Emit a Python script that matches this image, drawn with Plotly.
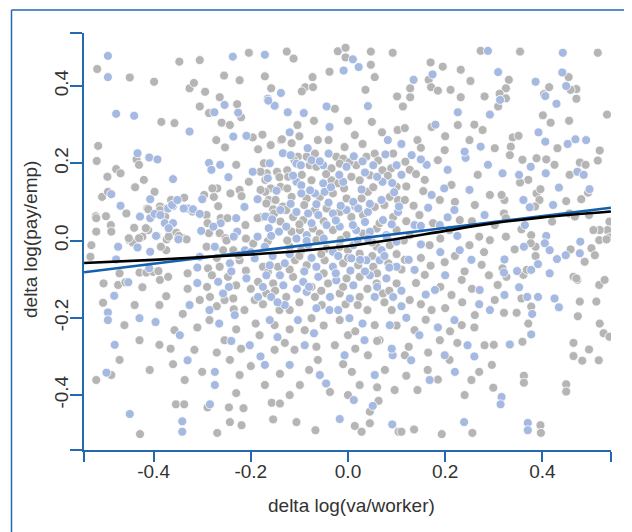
import plotly.graph_objects as go

# ---------------- data ----------------
gray_pts = [
    (-0.516,0.444),(-0.449,0.422),(-0.399,0.411),(-0.347,0.463),(-0.305,0.467),(-0.204,0.486),(-0.126,0.489),(-0.112,0.471),
    (-0.021,0.490),(-0.005,0.499),(-0.005,0.474),(0.047,0.489),(0.092,0.486),(0.047,0.455),(-0.038,0.437),(0.055,0.423),
    (-0.073,0.423),(-0.088,0.397),(-0.072,0.397),(-0.095,0.386),(-0.171,0.425),(-0.158,0.394),(-0.255,0.427),(-0.223,0.415),
    (-0.326,0.394),(-0.317,0.408),(-0.294,0.385),(-0.264,0.371),(-0.228,0.353),(-0.305,0.347),(0.036,0.390),(-0.027,0.341),
    (0.101,0.373),(0.128,0.371),(0.128,0.394),(0.170,0.461),(0.195,0.450),(0.232,0.442),(0.166,0.416),(0.171,0.397),
    (0.185,0.388),(0.211,0.390),(0.232,0.371),(0.252,0.413),(0.113,0.347),(0.273,0.491),(0.354,0.489),(0.514,0.486),
    (0.331,0.416),(0.325,0.394),(0.312,0.380),(0.325,0.368),(0.281,0.373),(0.309,0.347),(0.454,0.423),(0.470,0.392),
    (0.458,0.390),(0.470,0.367),(0.414,0.397),(0.403,0.379),(0.533,0.326),
    (0.401,0.324),(0.417,0.305),(0.455,0.310),(0.339,0.267),(0.351,0.271),(0.335,0.243),(0.333,0.221),(0.431,0.239),
    (0.518,0.233),(0.514,0.207),(0.359,0.209),(0.388,0.213),(0.408,0.210),(0.425,0.196),(0.477,0.202),(0.489,0.196),
    (0.371,0.157),(0.354,0.150),(0.456,0.170),(0.480,0.107),(0.494,0.124),(0.388,0.122),(0.396,0.133),(0.394,0.105),
    (0.385,0.088),(0.449,0.102),(0.322,0.105),(0.316,0.118),(0.456,0.070),(0.467,0.062),(0.538,0.049),(0.534,0.027),
    (0.538,0.008),(0.518,0.027),(0.505,0.027),(0.496,0.066),(0.420,0.049),(0.321,0.070),(0.325,0.058),(0.357,0.029),
    (0.377,0.014),(0.386,-0.016),(0.325,0.010),(0.343,-0.023),(0.458,-0.023),(0.487,-0.055),(0.501,-0.020),(0.517,0.001),
    (0.532,0.003),(0.508,-0.038),(0.464,-0.094),(0.361,-0.089),(0.368,-0.076),(0.386,-0.040),(0.376,-0.007),(0.472,-0.102),
    (0.517,-0.115),(0.528,-0.102),(0.357,-0.150),(0.377,-0.171),(0.321,-0.187),(0.347,-0.187),(0.371,-0.215),(0.359,-0.262),
    (0.477,-0.158),(0.511,-0.158),(0.473,-0.196),(0.518,-0.215),(0.526,-0.240),(0.538,-0.249),(0.464,-0.265),(0.464,-0.299),
    (0.482,-0.311),(0.496,-0.282),(0.516,-0.310),(0.362,-0.350),(0.449,-0.372),(0.396,-0.478),(0.470,-0.098),(0.318,-0.072),
    (0.326,-0.094),
    (0.299,-0.381),(0.362,-0.368),(0.449,-0.391),(-0.518,-0.361),(-0.354,-0.424),(-0.337,-0.424),(-0.289,-0.432),(-0.245,-0.432),
    (-0.215,-0.434),(-0.157,-0.420),(-0.140,-0.422),(0.063,-0.415),(-0.428,-0.501),(-0.269,-0.498),(-0.243,-0.470),(-0.219,-0.478),
    (-0.154,-0.463),(-0.106,-0.470),(-0.067,-0.491),(0.014,-0.480),(0.028,-0.495),(0.045,-0.443),(0.045,-0.473),(0.104,-0.495),
    (0.110,-0.495),(0.136,-0.489),(0.193,-0.501),(0.256,-0.498),(0.397,-0.498),
    (-0.519,0.063),(-0.498,0.063),(-0.456,0.070),(-0.518,0.023),(-0.488,0.040),(-0.487,0.023),(-0.528,-0.012),(-0.530,-0.042),
    (-0.450,0.001),(-0.440,0.033),(-0.443,-0.005),(-0.423,0.010),(-0.411,0.027),(-0.413,0.083),(-0.470,-0.085),(-0.503,-0.111),
    (-0.473,-0.115),(-0.458,-0.108),(-0.429,-0.083),(-0.415,-0.083),(-0.401,-0.081),(-0.423,-0.121),(-0.387,-0.102),(-0.370,-0.094),
    (-0.390,-0.079),(-0.374,-0.144),(-0.374,-0.025),(-0.385,-0.016),(-0.373,0.003),(-0.366,0.023),(-0.380,0.070),(-0.387,0.088),
    (-0.373,0.083),(-0.353,0.020),(-0.339,0.006),(-0.332,0.003),
    (-0.384,0.307),(-0.357,0.304),(-0.286,0.330),(-0.220,0.319),(-0.260,0.305),(-0.243,0.299),(-0.271,0.260),(-0.253,0.241),
    (-0.196,0.267),(-0.176,0.274),(-0.185,0.236),(-0.159,0.247),(-0.138,0.260),(-0.514,0.245),(-0.517,0.206),(-0.435,0.210),
    (-0.430,0.196),(-0.477,0.185),(-0.468,0.174),(-0.495,0.165),(-0.438,0.138),(-0.420,0.157),(-0.398,0.126),(-0.506,0.113),
    (-0.494,0.126),(-0.411,0.081),(-0.387,0.079),(-0.518,0.058),(-0.416,0.032),(-0.451,0.006),(-0.430,0.006),(-0.376,0.062),
    (-0.348,0.012),(-0.369,0.010),(-0.364,0.105),(-0.337,0.111),(-0.296,0.118),(-0.320,0.075),(-0.291,0.066),(-0.276,0.113),
    (-0.269,0.135),(-0.279,0.135),(-0.267,0.089),(-0.262,0.058),(-0.248,0.058),(-0.289,0.045),(-0.286,0.019),(-0.264,0.019),
    (-0.252,0.006),(-0.211,0.040),(-0.242,0.122),(-0.223,0.131),(-0.219,0.115),(-0.204,0.152),(-0.230,0.196),(-0.173,0.200),
    (-0.167,0.174),(-0.180,0.178),(-0.170,0.157),(-0.146,0.178),(-0.141,0.164),(-0.139,0.139),(-0.159,0.135),(-0.170,0.126),
    (-0.180,0.131),(-0.163,0.105),(-0.168,0.096),(-0.149,0.105),(-0.134,0.088),(-0.154,0.081),(-0.180,0.060),(-0.152,0.070),
    (-0.139,0.049),(-0.166,0.062),(-0.186,0.058),(-0.136,0.262),
    (-0.504,-0.161),(-0.487,-0.348),
    # centre block
    (-0.103,0.217),(-0.085,0.217),(-0.068,0.225),(-0.024,0.217),(-0.010,0.212),(0.038,0.217),(0.055,0.225),(0.093,0.225),
    (-0.079,0.195),(-0.065,0.191),(-0.034,0.187),(-0.017,0.199),(0.017,0.195),(0.071,0.182),(0.089,0.187),(-0.125,0.182),
    (-0.123,0.165),(-0.075,0.156),(-0.034,0.156),(-0.020,0.148),(0.007,0.165),(0.024,0.156),(0.045,0.169),(0.100,0.139),
    (-0.116,0.113),(-0.085,0.109),(-0.058,0.113),(-0.031,0.122),(-0.003,0.109),(0.028,0.109),(0.041,0.126),(0.086,0.113),
    (0.103,0.105),(-0.127,0.079),(-0.113,0.061),(-0.092,0.053),(-0.068,0.079),(-0.044,0.083),(-0.017,0.074),(0.007,0.061),
    (0.031,0.066),(0.055,0.087),(0.093,0.061),(-0.116,0.023),(-0.099,0.027),(-0.072,0.031),(-0.058,0.018),(-0.031,0.027),
    (-0.003,0.014),(0.031,0.018),(0.059,0.031),(0.100,0.027),
    (-0.291,-0.016),(-0.257,-0.025),(-0.236,-0.025),(-0.195,-0.008),(-0.120,-0.016),(-0.096,-0.025),(-0.065,0.001),(-0.044,-0.021),
    (-0.017,-0.016),(0.000,-0.025),(0.024,-0.034),(0.059,-0.016),(0.086,-0.012),
    (-0.288,-0.072),(-0.264,-0.068),(-0.223,-0.051),(-0.175,-0.068),(-0.144,-0.068),(-0.109,-0.051),(-0.085,-0.064),(-0.048,-0.051),
    (-0.010,-0.059),(0.021,-0.064),(0.052,-0.068),(0.083,-0.059),
    (-0.247,-0.094),(-0.230,-0.116),(-0.185,-0.107),(-0.154,-0.111),(-0.113,-0.094),(-0.075,-0.120),(-0.041,-0.111),(-0.003,-0.098),
    (0.024,-0.094),(0.059,-0.111),(0.100,-0.111),
    (-0.284,-0.146),(-0.236,-0.150),(-0.168,-0.137),(-0.127,-0.146),(-0.068,-0.146),(-0.017,-0.137),(0.024,-0.146),(0.072,-0.137),
    # lower-left block
    (-0.460,-0.219),(-0.429,-0.258),(-0.388,-0.167),(-0.357,-0.232),(-0.316,-0.283),(-0.285,-0.206),(-0.254,-0.258),(-0.213,-0.180),
    (-0.182,-0.245),(-0.151,-0.283),(-0.408,-0.335),(-0.336,-0.361),(-0.223,-0.348),(-0.171,-0.374),(-0.439,-0.167),(-0.470,-0.309),
    (-0.243,-0.309),(-0.305,-0.154),(-0.141,-0.180),(-0.192,-0.154),(-0.151,-0.219),(-0.254,-0.154),(-0.388,-0.270),
    # upper-centre strip
    (-0.104,0.299),(-0.062,0.260),(0.014,0.273),(0.049,0.307),(-0.116,0.252),(-0.007,0.242),(0.102,0.286),
    # right-centre block
    (0.117,0.291),(0.143,0.260),(0.172,0.294),(0.199,0.234),(0.226,0.299),(0.250,0.260),(0.277,0.286),(0.302,0.239),
    (0.127,0.183),(0.158,0.157),(0.185,0.208),(0.213,0.144),(0.267,0.170),(0.292,0.118),(0.117,0.105),(0.147,0.066),
    (0.189,0.105),(0.230,0.053),(0.261,0.092),(0.302,0.040),(0.127,0.014),(0.168,-0.012),(0.209,0.027),(0.250,-0.012),
    (0.292,0.001),(0.117,-0.050),(0.158,-0.089),(0.199,-0.056),(0.234,-0.102),(0.275,-0.063),(0.308,-0.115),(0.127,-0.154),
    (0.172,-0.180),(0.213,-0.141),(0.261,-0.193),(0.302,-0.154),(0.137,-0.232),(0.189,-0.258),(0.234,-0.219),(0.281,-0.271),
    (0.117,-0.297),(0.164,-0.335),(0.209,-0.309),(0.254,-0.361),(0.296,-0.322),(0.143,-0.387),(0.240,-0.400),
    # lower-centre block
    (-0.120,-0.180),(-0.089,-0.232),(-0.054,-0.167),(-0.017,-0.206),(0.020,-0.167),(0.055,-0.219),(0.090,-0.180),(-0.110,-0.283),
    (-0.062,-0.309),(-0.027,-0.271),(0.008,-0.340),(0.041,-0.297),(0.076,-0.335),(-0.099,-0.374),(-0.037,-0.392),(0.024,-0.374),
    (0.096,-0.387),(-0.075,-0.201),(0.000,-0.245),(0.065,-0.258),
    # dense centre, second layer (overlapping dots)
    (-0.110,0.207),(0.003,0.203),(0.062,0.207),(0.118,0.204),
    (-0.095,0.170),(-0.045,0.172),(0.082,0.168),(0.140,0.172),
    (-0.125,0.135),(-0.008,0.135),(0.052,0.138),(0.120,0.140),(0.155,0.128),
    (-0.090,0.092),(0.015,0.088),(0.075,0.092),(0.135,0.090),(0.220,0.100),
    (-0.100,0.042),(-0.050,0.050),(0.065,0.045),(0.120,0.050),(0.175,0.045),(0.255,0.050),
    (-0.250,0.000),(-0.210,0.005),(-0.165,-0.002),(-0.125,0.000),(-0.015,0.002),(0.050,-0.005),(0.115,0.000),
    (0.190,0.005),(0.270,0.010),
    (-0.270,-0.045),(-0.225,-0.038),(-0.100,-0.040),(-0.055,-0.035),(0.000,-0.045),(0.050,-0.040),(0.100,-0.035),
    (0.150,-0.045),(0.220,-0.040),(0.280,-0.030),
    (-0.330,-0.085),(-0.280,-0.090),(-0.210,-0.078),(-0.165,-0.082),(-0.120,-0.075),(-0.050,-0.085),(0.060,-0.085),
    (0.110,-0.075),(0.170,-0.065),(0.240,-0.080),(0.290,-0.090),
    (-0.330,-0.125),(-0.290,-0.120),(-0.200,-0.125),(-0.150,-0.130),(-0.055,-0.130),(-0.010,-0.120),(0.040,-0.125),
    (0.085,-0.130),(0.140,-0.110),(0.190,-0.120),(0.255,-0.125),
    (-0.340,-0.190),(-0.270,-0.170),(-0.235,-0.178),(-0.175,-0.165),(-0.100,-0.160),(-0.005,-0.165),(0.040,-0.180),
    (0.075,-0.160),(0.150,-0.165),(0.200,-0.175),(0.235,-0.160),
    (-0.310,-0.225),(-0.230,-0.230),(-0.190,-0.215),(-0.120,-0.230),(-0.050,-0.220),(0.015,-0.235),(0.100,-0.220),(0.160,-0.205),
    (0.210,-0.235),(0.260,-0.225),
    (-0.365,-0.280),(-0.270,-0.290),(-0.220,-0.280),(-0.130,-0.265),(-0.065,-0.275),(0.015,-0.280),(0.060,-0.260),(0.125,-0.275),
    (0.165,-0.290),(0.225,-0.265),(0.300,-0.270),
    (-0.360,-0.320),(-0.300,-0.340),(-0.200,-0.325),(-0.140,-0.345),(-0.080,-0.335),(-0.010,-0.320),(0.060,-0.380),(0.120,-0.350),
    (0.185,-0.360),(0.270,-0.340),(-0.230,-0.395),(-0.120,-0.400),(0.000,-0.400),
    (-0.100,0.270),(-0.040,0.260),(0.030,0.250),(0.070,0.280),(0.150,0.240),(0.200,0.270),(0.260,0.300),(-0.070,0.310),(0.000,0.310),
]
blue_pts = [
    (-0.494,0.478),(-0.494,0.423),(-0.237,0.476),(-0.171,0.481),(0.010,0.469),(0.022,0.449),(-0.009,0.440),(-0.138,0.382),
    (-0.165,0.367),(-0.150,0.349),(-0.254,0.351),(-0.226,0.331),(-0.275,0.332),(-0.477,0.328),(-0.440,0.323),(0.041,0.348),
    (-0.044,0.347),(-0.124,0.332),(-0.091,0.330),(0.135,0.416),(0.174,0.430),(0.226,0.332),(0.288,0.491),(0.442,0.486),
    (0.309,0.436),(0.313,0.364),(0.292,0.326),(0.386,0.411),(0.441,0.435),(0.449,0.400),(0.429,0.354),(0.406,0.374),
    (0.392,0.280),(0.406,0.256),(0.452,0.250),(0.468,0.262),(0.490,0.260),(0.273,0.243),(0.376,0.191),(0.318,0.174),
    (0.352,0.170),(0.407,0.174),(0.472,0.178),(0.485,0.170),(0.434,0.137),(0.497,0.133),(0.361,0.105),(0.374,0.086),
    (0.422,0.092),(0.364,0.040),(0.362,-0.016),(0.408,0.012),(0.405,-0.007),(0.478,-0.003),(0.477,-0.033),(0.415,-0.025),
    (0.430,-0.048),(0.448,-0.038),(0.322,-0.049),(0.321,-0.083),(0.348,-0.079),(0.377,-0.076),(0.391,-0.061),(0.415,-0.085),
    (0.352,-0.121),(0.322,-0.141),(0.369,-0.146),(0.391,-0.146),(0.425,-0.150),(0.434,-0.173),(0.379,-0.190),(0.333,-0.269),
    (0.377,-0.243),(0.316,-0.405),(0.370,-0.472),
    (-0.284,-0.424),(0.012,-0.413),(0.051,-0.428),(0.314,-0.424),(-0.449,-0.449),(-0.341,-0.468),(-0.341,-0.495),(-0.017,-0.462),
    (0.091,-0.476),(0.239,-0.470),(0.370,-0.491),
    (-0.468,0.090),(-0.428,0.062),(-0.473,-0.016),(-0.433,-0.018),(-0.407,-0.029),(-0.477,-0.049),(-0.481,-0.143),(-0.452,-0.108),
    (-0.409,-0.072),(-0.393,0.012),(-0.377,0.045),(-0.360,0.045),(-0.349,0.003),(-0.370,0.083),(-0.360,0.089),(-0.329,0.083),
    (-0.326,0.282),(-0.236,0.269),(-0.209,0.271),(-0.151,0.349),(-0.164,0.362),(-0.433,0.226),(-0.409,0.215),(-0.392,0.210),
    (-0.360,0.159),(-0.487,0.120),(-0.407,0.107),(-0.407,0.058),(-0.398,0.069),(-0.386,0.066),(-0.395,0.012),(-0.369,0.032),
    (-0.362,0.092),(-0.351,0.105),(-0.338,0.083),(-0.319,0.081),(-0.305,0.069),(-0.300,0.107),(-0.262,0.045),(-0.277,0.036),
    (-0.302,0.025),(-0.228,0.023),(-0.230,0.058),(-0.213,0.087),(-0.286,0.201),(-0.263,0.196),(-0.281,0.183),(-0.246,0.164),
    (-0.196,0.178),(-0.161,0.200),(-0.165,0.161),(-0.147,0.129),(-0.186,0.107),(-0.170,0.062),(-0.156,0.055),(-0.139,0.079),
    (-0.163,0.032),(-0.142,0.023),(-0.158,0.012),(-0.186,0.010),(-0.134,0.226),
    (-0.494,-0.186),(-0.494,-0.206),(-0.497,-0.342),
    # centre block
    (-0.118,0.221),(-0.040,0.225),(0.012,0.218),(0.077,0.223),(-0.106,0.199),(-0.097,0.195),(-0.051,0.195),(-0.003,0.191),
    (0.052,0.195),(0.100,0.195),(-0.106,0.152),(-0.096,0.143),(-0.051,0.148),(-0.010,0.152),(0.071,0.152),(0.091,0.149),
    (-0.096,0.122),(-0.068,0.122),(-0.048,0.126),(0.011,0.100),(0.069,0.105),(-0.106,0.074),(-0.082,0.070),(-0.061,0.066),
    (-0.031,0.070),(-0.003,0.079),(0.021,0.083),(0.041,0.074),(0.072,0.053),(0.103,0.074),(-0.127,0.036),(-0.085,0.014),
    (-0.044,0.040),(-0.017,0.036),(0.017,0.027),(0.045,0.023),(0.079,0.014),
    (-0.305,-0.042),(-0.274,-0.016),(-0.212,-0.025),(-0.171,-0.016),(-0.106,0.005),(-0.082,-0.012),(-0.031,-0.029),(0.011,-0.012),
    (0.041,0.005),(0.069,-0.025),(0.100,-0.003),
    (-0.243,-0.059),(-0.192,-0.046),(-0.161,-0.064),(-0.130,-0.059),(-0.065,-0.068),(-0.031,-0.068),(0.007,-0.046),(0.038,-0.051),
    (0.065,-0.051),(0.100,-0.068),
    (-0.267,-0.107),(-0.209,-0.098),(-0.168,-0.090),(-0.133,-0.116),(-0.092,-0.107),(-0.061,-0.094),(-0.024,-0.103),(0.011,-0.116),
    (0.045,-0.090),(0.079,-0.098),
    (-0.257,-0.137),(-0.185,-0.146),(-0.158,-0.146),(-0.085,-0.133),(-0.037,-0.146),(0.004,-0.150),(0.055,-0.146),(0.093,-0.146),
    # lower-left block
    (-0.480,-0.270),(-0.396,-0.211),(-0.346,-0.245),(-0.274,-0.340),(-0.274,-0.374),(-0.233,-0.193),(-0.202,-0.271),(-0.161,-0.206),
    (-0.429,-0.201),(-0.326,-0.167),(-0.171,-0.322),(-0.130,-0.167),
    # upper-centre strip
    (-0.038,0.294),(0.082,0.260),(-0.083,0.239),
    # right-centre block
    (0.131,0.221),(0.162,0.196),(0.205,0.183),(0.242,0.214),(0.288,0.196),(0.172,0.118),(0.219,0.079),(0.250,0.131),
    (0.281,0.066),(0.137,0.040),(0.189,0.040),(0.230,-0.025),(0.137,-0.076),(0.179,-0.128),(0.254,-0.050),(0.292,-0.180),
    (0.147,-0.245),(0.199,-0.297),(0.246,-0.271),(0.168,-0.361),(0.271,-0.128),(0.219,-0.206),
    # lower-centre block
    (-0.103,-0.206),(-0.038,-0.180),(0.003,-0.201),(0.034,-0.258),(0.086,-0.219),(-0.089,-0.271),(-0.007,-0.297),(0.055,-0.348),
    (-0.058,-0.348),(-0.120,-0.322),(0.092,-0.297),
    # dense centre, second layer
    (-0.075,0.208),(0.030,0.205),(0.150,0.210),(-0.058,0.205),
    (-0.113,0.168),(-0.018,0.170),(0.060,0.165),(0.110,0.170),(0.035,0.176),
    (-0.035,0.138),(0.028,0.132),(0.095,0.125),(0.198,0.135),(-0.078,0.130),
    (-0.118,0.095),(-0.065,0.094),(-0.015,0.090),(0.045,0.095),(0.105,0.088),(0.165,0.085),(-0.040,0.098),
    (-0.075,0.045),(-0.025,0.052),(0.035,0.048),(0.090,0.042),(0.150,0.038),(0.205,0.060),(0.010,0.040),
    (-0.235,0.010),(-0.050,0.005),(0.020,0.000),(0.080,0.008),(0.150,-0.010),(0.225,0.012),(-0.085,-0.001),
    (-0.200,-0.030),(-0.120,-0.035),(-0.075,-0.045),(-0.020,-0.040),(0.025,-0.050),(0.075,-0.040),(0.125,-0.050),(0.190,-0.030),
    (-0.155,-0.040),
    (-0.310,-0.070),(-0.240,-0.080),(-0.140,-0.090),(-0.090,-0.080),(-0.025,-0.085),(0.035,-0.080),(0.085,-0.070),(0.200,-0.090),
    (0.005,-0.078),
    (-0.310,-0.110),(-0.245,-0.120),(-0.175,-0.120),(-0.080,-0.120),(0.060,-0.120),(0.110,-0.130),(0.160,-0.140),(-0.105,-0.125),
    (-0.285,-0.180),(-0.145,-0.160),(-0.020,-0.180),(0.110,-0.170),(0.270,-0.165),(-0.065,-0.175),
    (-0.265,-0.215),(-0.145,-0.250),(-0.070,-0.240),(0.030,-0.215),(0.120,-0.200),(0.185,-0.225),
    (-0.240,-0.260),(-0.180,-0.300),(0.090,-0.280),(0.260,-0.300),
    (-0.330,-0.310),(-0.045,-0.370),(0.130,-0.310),(0.220,-0.340),
    (-0.120,0.280),(0.110,0.250),(0.180,0.300),(0.240,0.230),
]
# fitted lines
lin_x = [-0.543, 0.541]
lin_y = [-0.082, 0.085]
smooth_x = [-0.543, -0.40, -0.30, -0.20, -0.10, 0.00, 0.10, 0.20, 0.30, 0.40, 0.541]
smooth_y = [-0.058, -0.050, -0.043, -0.036, -0.027, -0.014, 0.004, 0.025, 0.045, 0.060, 0.075]

x_ticks = [-0.543, -0.4, -0.2, 0.0, 0.2, 0.4, 0.541]
x_labels = ["", "-0.4", "-0.2", "0.0", "0.2", "0.4", ""]
y_ticks = [-0.542, -0.4, -0.2, 0.0, 0.2, 0.4, 0.537]
y_labels = ["", "-0.4", "-0.2", "0.0", "0.2", "0.4", ""]

AX = "#2468b0"
GRAY = "#b5b5b5"
LBLUE = "#a5b9e1"
TXT = "#333333"
FONT = "Liberation Sans, Arial, sans-serif"
FS = 19

fig = go.Figure()
fig.add_trace(go.Scatter(x=[p[0] for p in gray_pts], y=[p[1] for p in gray_pts], mode="markers",
                         marker=dict(size=9, color=GRAY, line=dict(color="white", width=0.8)),
                         hoverinfo="skip", showlegend=False))
fig.add_trace(go.Scatter(x=[p[0] for p in blue_pts], y=[p[1] for p in blue_pts], mode="markers",
                         marker=dict(size=9, color=LBLUE, line=dict(color="white", width=0.8)),
                         hoverinfo="skip", showlegend=False))
fig.add_trace(go.Scatter(x=lin_x, y=lin_y, mode="lines", line=dict(color="#1560ad", width=2.6),
                         hoverinfo="skip", showlegend=False))
fig.add_trace(go.Scatter(x=smooth_x, y=smooth_y, mode="lines", line=dict(color="black", width=2.6, shape="spline"),
                         hoverinfo="skip", showlegend=False))

axis_common = dict(showgrid=False, zeroline=False, showline=True, linecolor=AX, linewidth=1.5,
                   ticks="outside", tickcolor=AX, tickwidth=1.5, automargin=False,
                   tickfont=dict(family=FONT, size=FS, color=TXT))
fig.update_xaxes(range=[-0.5432, 0.5412], tickmode="array", tickvals=x_ticks, ticktext=x_labels, ticklen=10,
                 ticklabelstandoff=-7, **axis_common)
fig.update_yaxes(range=[-0.5422, 0.5372], tickmode="array", tickvals=y_ticks, ticktext=y_labels, ticklen=12,
                 tickangle=-90, ticklabelstandoff=-5, **axis_common)

# axis titles
fig.add_annotation(text="delta log(va/worker)", xref="paper", yref="paper", x=(351 - 84) / 527, y=(450 - 505) / 417,
                   xanchor="center", yanchor="middle", showarrow=False, font=dict(family=FONT, size=FS, color=TXT))
fig.add_annotation(text="delta log(pay/emp)", xref="paper", yref="paper", x=(30 - 84) / 527, y=(450 - 240) / 417,
                   xanchor="center", yanchor="middle", textangle=-90, showarrow=False,
                   font=dict(family=FONT, size=FS, color=TXT))

# outer frame (top and left edges visible)
fx = (11.5 - 84) / 527
fy = (450 - 10) / 417
fig.add_shape(type="line", xref="paper", yref="paper", x0=fx, y0=fy, x1=fx, y1=-0.4, line=dict(color=AX, width=1.5))
fig.add_shape(type="line", xref="paper", yref="paper", x0=fx, y0=fy, x1=1.2, y1=fy, line=dict(color=AX, width=1.5))

# the page adds an 8px body margin, so the figure is 8px smaller and the margins 8px less
fig.update_layout(width=624, height=524, margin=dict(l=76, r=21, t=25, b=82),
                  plot_bgcolor="white", paper_bgcolor="white", font=dict(family=FONT, color=TXT))
fig.write_html("out.html")
